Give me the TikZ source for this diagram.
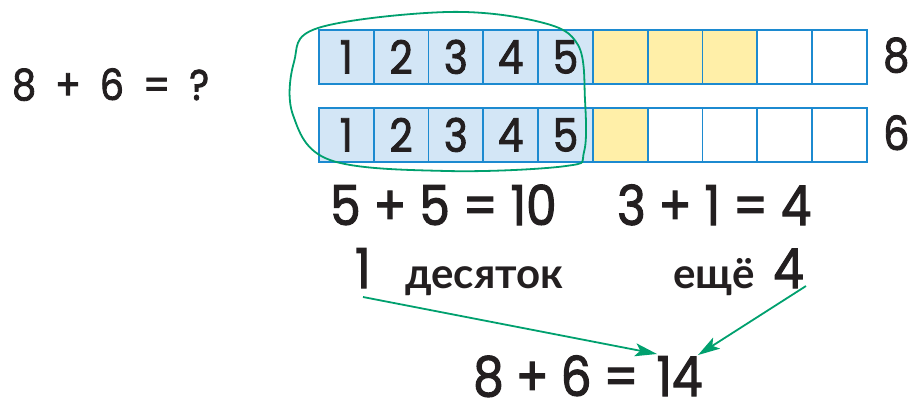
\documentclass[tikz,border=0pt]{standalone}
\usepackage{fontspec}
\setmainfont{Poppins}[RawFeature={embolden=2;extend=0.88}]
\newfontfamily\cyr{Lato}
\usetikzlibrary{arrows.meta}
\definecolor{cellblue}{HTML}{D3E6F6}
\definecolor{cellline}{HTML}{1C8AD0}
\definecolor{cellyellow}{HTML}{FFEFA8}
\definecolor{loopgreen}{HTML}{00A06E}
\definecolor{ink}{HTML}{231F20}
\newcommand{\gp}{\hspace{12pt}}
\newcommand{\tg}{\hspace{19pt}}
\begin{document}
\begin{tikzpicture}[x=1pt,y=-1pt,
  cell/.style={draw=cellline,line width=1.8pt,minimum width=54.8pt,minimum height=54pt,inner sep=0pt,anchor=north west,text=ink,font=\fontsize{46}{46}\selectfont},
  eq/.style={inner sep=0pt,text=ink,anchor=base west,font=\fontsize{55}{55}\selectfont},
  word/.style={inner sep=0pt,text=ink,anchor=base west,font=\cyr\bfseries\fontsize{42}{42}\selectfont},
  side/.style={inner sep=0pt,text=ink,anchor=base west,font=\fontsize{47}{47}\selectfont},
  garrow/.style={draw=loopgreen,line width=1.8pt,-{Stealth[length=22pt,width=13pt,inset=5pt]}}]
\useasboundingbox (0,0) rectangle (912,400);
% row 1
\foreach \i/\f/\t in {0/cellblue/1,1/cellblue/2,2/cellblue/3,3/cellblue/4,4/cellblue/5,5/cellyellow/,6/cellyellow/,7/cellyellow/,8/white/,9/white/}
  \node[cell,fill=\f] (a\i) at (318+\i*54.8,29) {\t};
% row 2
\foreach \i/\f/\t in {0/cellblue/1,1/cellblue/2,2/cellblue/3,3/cellblue/4,4/cellblue/5,5/cellyellow/,6/white/,7/white/,8/white/,9/white/}
  \node[cell,fill=\f] (b\i) at (318+\i*54.8,107) {\t};
\node[side] (n8) at (883,72) {8};
\node[side] (n6) at (883,150) {6};
\node[inner sep=0pt,text=ink,anchor=base west,font=\fontsize{43}{43}\selectfont] (task) at (12,100) {8\tg+\tg6\tg=\tg?};
\node[eq] (e1) at (330,225) {5 + 5 = 10};
\node[eq] (e2) at (617,225) {3 + 1 = 4};
\node[eq] (one) at (355,288) {1};
\node[word] (des) at (405,288) {десяток};
\node[word] (esche) at (673,288) {ещё};
\node[eq] (four) at (773,288) {4};
\node[eq] (res) at (473,396) {8\gp+\gp6\gp=\hspace{18pt}14};
% green loop
\draw[loopgreen,line width=1.8pt] plot[smooth cycle,tension=0.6] coordinates {
  (447,12) (540,22) (578,45) (585,100) (584,152) (566,166) (447,171) (330,160) (293,115) (294,62) (318,28)};
\coordinate (s1) at (363,297);
\coordinate (t1) at (657,354);
\coordinate (s2) at (806,286);
\coordinate (t2) at (698,355);
\draw[garrow] (s1) -- (t1);
\draw[garrow] (s2) -- (t2);
\end{tikzpicture}
\end{document}
